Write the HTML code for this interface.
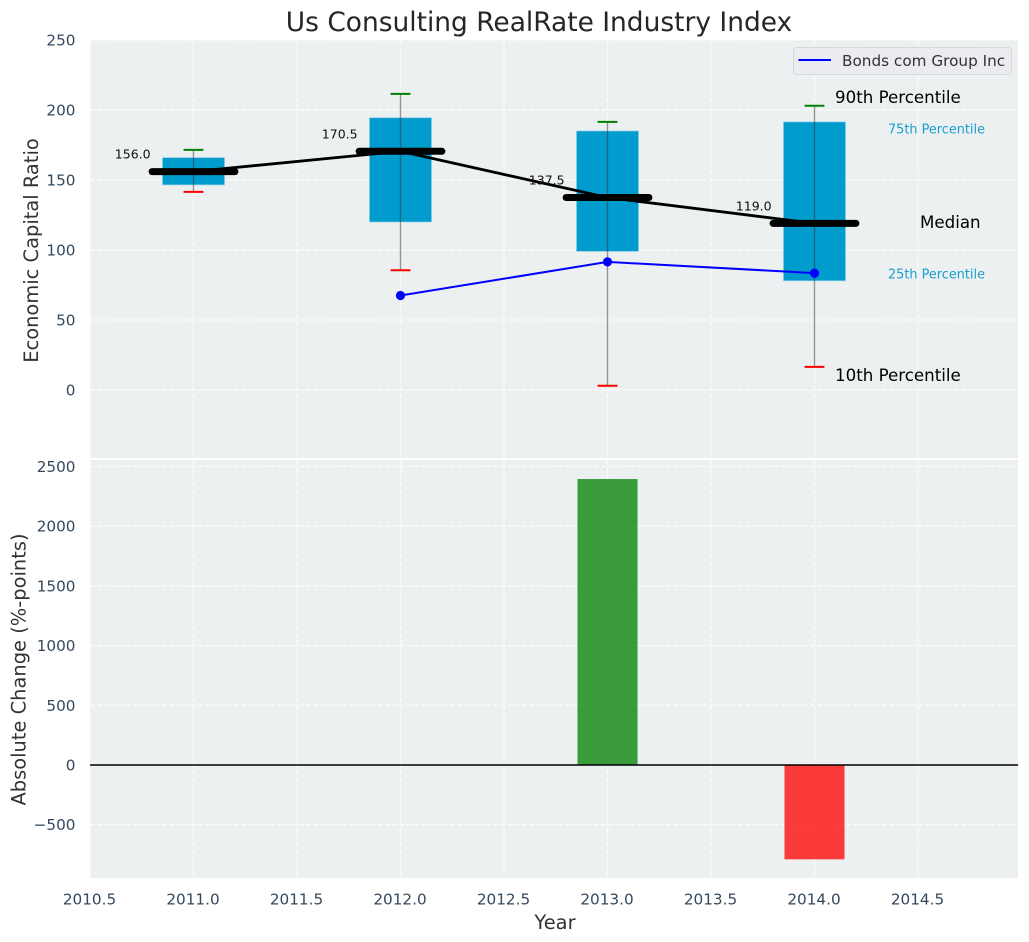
<!DOCTYPE html>
<html>
<head>
<meta charset="utf-8">
<style>
html,body{margin:0;padding:0;background:#fff;}
svg{display:block;font-family:"DejaVu Sans","Liberation Sans",sans-serif;}
</style>
</head>
<body>
<svg id="chart" xmlns="http://www.w3.org/2000/svg" width="1029" height="942" viewBox="0 0 1029 942">
  <text x="539" y="31" text-anchor="middle" font-size="26.45" fill="#262626">Us Consulting RealRate Industry Index</text>
  <rect x="90" y="40" width="928" height="418" fill="#ecf0f1"/>
  <rect x="90" y="460" width="928" height="418" fill="#ecf0f1"/>
  <g id="grid"></g>
  <g id="ticks"></g>
  <g id="bars"></g>
  <g id="boxes"></g>
  <g id="lines"></g>
  <text transform="translate(38,250.5) rotate(-90)" text-anchor="middle" font-size="19.45" fill="#333">Economic Capital Ratio</text>
  <text transform="translate(25.5,669.5) rotate(-90)" text-anchor="middle" font-size="19.45" fill="#333">Absolute Change (%-points)</text>
  <text x="555" y="929" text-anchor="middle" font-size="19.45" fill="#333">Year</text>
  <text x="835" y="103" font-size="16.67" fill="#000">90th Percentile</text>
  <text x="888" y="133.5" font-size="12.85" fill="#1a9fcb">75th Percentile</text>
  <text x="920" y="228" font-size="16.67" fill="#000">Median</text>
  <text x="888" y="278.5" font-size="12.85" fill="#1a9fcb">25th Percentile</text>
  <text x="835" y="381" font-size="16.67" fill="#000">10th Percentile</text>
  <g>
    <rect x="793.5" y="47.5" width="218" height="27" rx="3" fill="#eaecf1" stroke="#d6d8dc" stroke-width="1"/>
    <line x1="798.5" y1="60" x2="831" y2="60" stroke="#0000ff" stroke-width="2"/>
    <text x="842" y="66" font-size="15.25" fill="#333">Bonds com Group Inc</text>
  </g>
</svg>
<script>
const years = [2011, 2012, 2013, 2014];
const p10 = [141.5, 85.5, 3, 16.5];
const q1 = [146.5, 120, 99, 78];
const medians = [156, 170.5, 137.5, 119];
const q3 = [166, 194.5, 185, 191.5];
const p90 = [171.5, 211.5, 191.5, 203];
const medianLabels = ['156.0', '170.5', '137.5', '119.0'];
const bondYears = [2012, 2013, 2014];
const bondValues = [67.5, 91.5, 83.5];
const changeYears = [2013, 2014];
const changeValues = [2395, -790];
const xTicks = [2010.5, 2011, 2011.5, 2012, 2012.5, 2013, 2013.5, 2014, 2014.5];
const xTickLabels = ['2010.5', '2011.0', '2011.5', '2012.0', '2012.5', '2013.0', '2013.5', '2014.0', '2014.5'];
const upperTicks = [0, 50, 100, 150, 200, 250];
const lowerTicks = [-500, 0, 500, 1000, 1500, 2000, 2500];

const NS = 'http://www.w3.org/2000/svg';
function xPos(v) { return 90 + (v - 2010.5) * 207; }
function yUpper(v) { return 390 - v * 1.4; }
function yLower(v) { return 765 - v * 0.1194; }
function mk(parent, tag, props) {
  const el = document.createElementNS(NS, tag);
  for (const k in props) el.setAttribute(k, props[k]);
  parent.appendChild(el);
  return el;
}
const gridG = document.getElementById('grid');
const ticksG = document.getElementById('ticks');
const barsG = document.getElementById('bars');
const boxesG = document.getElementById('boxes');
const linesG = document.getElementById('lines');
const gridStyle = {stroke: '#ffffff', 'stroke-width': 1.3, 'stroke-dasharray': '5 2.2', opacity: 0.85};

xTicks.forEach(function (t, i) {
  const a = mk(gridG, 'line', Object.assign({x1: xPos(t), x2: xPos(t), y1: 40, y2: 458}, gridStyle));
  
  
  const b = mk(gridG, 'line', Object.assign({x1: xPos(t), x2: xPos(t), y1: 460, y2: 878}, gridStyle));
  
  
  const lab = mk(ticksG, 'text', {x: xPos(t) - 0.5, y: 904.5, 'text-anchor': 'middle', 'font-size': 15.25, fill: '#34495e'});
  lab.textContent = xTickLabels[i];
  
  
});
upperTicks.forEach(function (t) {
  const g = mk(gridG, 'line', Object.assign({x1: 90, x2: 1018, y1: yUpper(t), y2: yUpper(t)}, gridStyle));
  
  
  const lab = mk(ticksG, 'text', {x: 75.5, y: yUpper(t) + 5.5, 'text-anchor': 'end', 'font-size': 15.25, fill: '#34495e'});
  lab.textContent = String(t);
  
  
});
lowerTicks.forEach(function (t) {
  const g = mk(gridG, 'line', Object.assign({x1: 90, x2: 1018, y1: yLower(t), y2: yLower(t)}, gridStyle));
  
  
  const lab = mk(ticksG, 'text', {x: 75.5, y: yLower(t) + 5.5, 'text-anchor': 'end', 'font-size': 15.25, fill: '#34495e'});
  lab.textContent = t < 0 ? '\u2212' + Math.abs(t) : String(t);
  
  
});

changeYears.forEach(function (yr, i) {
  const v = changeValues[i];
  const top = Math.min(yLower(v), yLower(0));
  const h = Math.abs(yLower(v) - yLower(0));
  const bar = mk(barsG, 'rect', {x: xPos(yr - 0.145), y: top, width: xPos(yr + 0.145) - xPos(yr - 0.145), height: h, fill: v >= 0 ? '#008000' : '#ff0000', opacity: 0.76});
  
  
});
const zero = mk(barsG, 'line', {x1: 90, x2: 1018, y1: yLower(0), y2: yLower(0), stroke: '#000', 'stroke-width': 1.4});



years.forEach(function (yr, i) {
  const box = mk(boxesG, 'rect', {x: xPos(yr - 0.15), y: yUpper(q3[i]), width: xPos(yr + 0.15) - xPos(yr - 0.15), height: yUpper(q1[i]) - yUpper(q3[i]), fill: '#009ccd', stroke: '#8fd0e6', 'stroke-width': 0.7});
  
  
  const w = mk(boxesG, 'line', {x1: xPos(yr), x2: xPos(yr), y1: yUpper(p90[i]), y2: yUpper(p10[i]), stroke: '#333', 'stroke-width': 1.4, opacity: 0.5});
  
  
  const capHi = mk(boxesG, 'line', {x1: xPos(yr - 0.048), x2: xPos(yr + 0.048), y1: yUpper(p90[i]), y2: yUpper(p90[i]), stroke: '#008000', 'stroke-width': 2});
  
  
  const capLo = mk(boxesG, 'line', {x1: xPos(yr - 0.048), x2: xPos(yr + 0.048), y1: yUpper(p10[i]), y2: yUpper(p10[i]), stroke: '#ff0000', 'stroke-width': 2});
  
  
});

const medianPath = mk(linesG, 'polyline', {points: years.map(function (yr, i) { return xPos(yr) + ',' + yUpper(medians[i]); }).join(' '), fill: 'none', stroke: '#000', 'stroke-width': 2.8});


years.forEach(function (yr, i) {
  const m = mk(linesG, 'line', {x1: xPos(yr - 0.2), x2: xPos(yr + 0.2), y1: yUpper(medians[i]), y2: yUpper(medians[i]), stroke: '#000', 'stroke-width': 7, 'stroke-linecap': 'round'});
  
  
  const lab = mk(linesG, 'text', {x: xPos(yr - 0.2) - 1.5, y: yUpper(medians[i]) - 13, 'text-anchor': 'end', 'font-size': 12.5, fill: '#111'});
  lab.textContent = medianLabels[i];
  
  
});

const bondLine = mk(linesG, 'polyline', {points: bondYears.map(function (yr, i) { return xPos(yr) + ',' + yUpper(bondValues[i]); }).join(' '), fill: 'none', stroke: '#0000ff', 'stroke-width': 2});


bondYears.forEach(function (yr, i) {
  const p = mk(linesG, 'circle', {cx: xPos(yr), cy: yUpper(bondValues[i]), r: 4.6, fill: '#0000ff'});
  
  
});
</script>
</body>
</html>
